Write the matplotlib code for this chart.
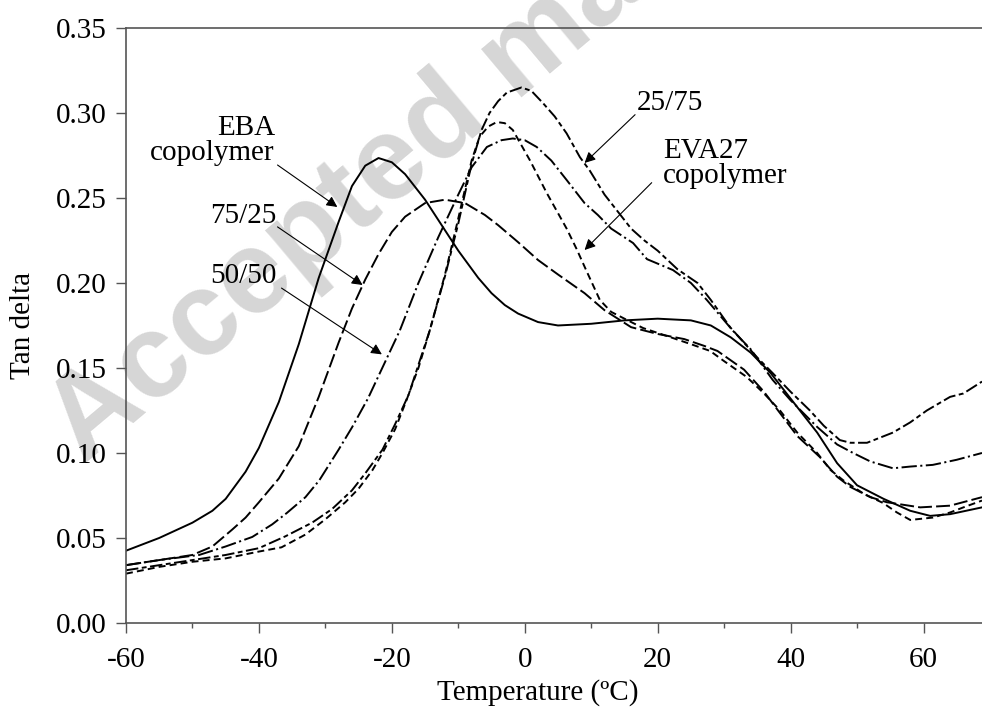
import numpy as np
import matplotlib
matplotlib.use("Agg")
import matplotlib.pyplot as plt

plt.rcParams['font.family'] = ['Liberation Serif', 'DejaVu Serif']
plt.rcParams['lines.scale_dashes'] = False

# --- data (temperature in C, tan delta) ---
eba_t = [-60, -55, -50, -47, -45, -42, -40, -37, -34, -31, -28, -26, -24, -22, -20, -18,
         -15, -12, -10, -7, -5, -3, -1, 2, 5, 10, 15, 20, 25, 28, 31, 34, 37, 40, 44, 47,
         50, 54, 58, 61, 64, 68.8]
eba_tan = [0.0425, 0.050, 0.059, 0.066, 0.073, 0.089, 0.103, 0.130, 0.164, 0.203, 0.236,
           0.257, 0.269, 0.2735, 0.271, 0.264, 0.249, 0.231, 0.219, 0.203, 0.194, 0.187,
           0.182, 0.177, 0.175, 0.176, 0.178, 0.179, 0.178, 0.175, 0.168, 0.159, 0.147,
           0.132, 0.112, 0.094, 0.081, 0.073, 0.066, 0.063, 0.064, 0.068]

b75_t = [-60, -55, -50, -47, -44, -42, -40, -37, -34, -31, -28, -26, -24, -22, -20, -18,
         -15, -12, -9, -6, -4, -1, 2, 5, 9, 12, 16, 20, 24, 27, 29, 33, 36, 38.4, 41, 44.4,
         47, 49, 52, 54.5, 59.5, 64, 68.8]
b75_tan = [0.034, 0.037, 0.040, 0.045, 0.055, 0.062, 0.071, 0.085, 0.104, 0.133, 0.165,
           0.185, 0.202, 0.217, 0.230, 0.239, 0.247, 0.249, 0.247, 0.240, 0.234, 0.224,
           0.2135, 0.205, 0.194, 0.184, 0.174, 0.170, 0.167, 0.163, 0.160, 0.149, 0.136,
           0.1235, 0.110, 0.0976, 0.086, 0.080, 0.074, 0.071, 0.068, 0.069, 0.074]

b50_t = [-60, -55, -49, -45, -41, -38, -35.8, -33, -30.9, -28, -26, -23.6, -21.8, -18.8,
         -16, -13, -10, -8, -5.7, -3.5, -1.8, 0, 1.8, 4, 6.3, 9, 11, 13, 16.3, 18.4, 22.3,
         25, 27.4, 31.3, 34, 37.3, 40, 44, 47, 49.4, 52, 55.4, 58, 61.4, 65, 68.8]
b50_tan = [0.034, 0.037, 0.040, 0.045, 0.0506, 0.058, 0.0647, 0.074, 0.084, 0.102, 0.115,
           0.132, 0.147, 0.172, 0.200, 0.227, 0.252, 0.268, 0.280, 0.284, 0.285, 0.284,
           0.280, 0.272, 0.2606, 0.247, 0.240, 0.232, 0.2235, 0.214, 0.2076, 0.200, 0.190,
           0.172, 0.161, 0.143, 0.131, 0.1153, 0.105, 0.100, 0.095, 0.091, 0.092, 0.093,
           0.096, 0.100]

b25_t = [-60, -55, -50, -45, -40, -36, -32, -29, -26, -24, -21.4, -19.5, -17.5, -14.3,
         -12, -10, -8, -6.5, -5.3, -4, -2.7, -0.5, 1, 2.7, 4.5, 6.3, 8.3, 9.8, 12, 14, 16,
         18, 20, 23, 26, 28, 30.9, 34.9, 37.3, 40, 42.9, 45, 47.4, 49, 51.5, 55.4, 58,
         60.5, 64, 66, 68.8]
b25_tan = [0.031, 0.034, 0.037, 0.040, 0.044, 0.051, 0.059, 0.067, 0.078, 0.088, 0.102,
           0.117, 0.134, 0.172, 0.204, 0.235, 0.270, 0.290, 0.300, 0.307, 0.312, 0.315,
           0.313, 0.306, 0.298, 0.288, 0.274, 0.266, 0.252, 0.242, 0.232, 0.225, 0.219,
           0.208, 0.200, 0.190, 0.174, 0.1565, 0.147, 0.136, 0.125, 0.116, 0.1076, 0.106,
           0.106, 0.112, 0.118, 0.125, 0.133, 0.135, 0.142]

eva_t = [-60, -55, -50, -45, -40, -36.6, -33, -30, -27, -25, -22.9, -21.4, -19.5, -17.8,
         -16, -14.3, -12, -10, -8, -6.8, -5.5, -4.2, -3, -1.8, 0.8, 3.3, 6.3, 7.8, 9.3,
         11.3, 13, 15, 17.8, 22, 25, 27.9, 30, 33.4, 36, 38.4, 41, 44, 46, 47.9, 51, 53.9,
         56, 58, 61.4, 64, 66, 68.8]
eva_tan = [0.029, 0.033, 0.036, 0.038, 0.042, 0.0445, 0.052, 0.061, 0.071, 0.079, 0.090,
           0.100, 0.114, 0.131, 0.150, 0.172, 0.205, 0.238, 0.272, 0.286, 0.292, 0.2947,
           0.294, 0.290, 0.272, 0.253, 0.232, 0.220, 0.207, 0.190, 0.183, 0.179, 0.1735,
           0.168, 0.164, 0.160, 0.154, 0.1447, 0.135, 0.125, 0.112, 0.100, 0.090, 0.084,
           0.076, 0.0706, 0.065, 0.0606, 0.062, 0.065, 0.068, 0.072]

x_ticks = [-60, -40, -20, 0, 20, 40, 60]
y_ticks = [0.00, 0.05, 0.10, 0.15, 0.20, 0.25, 0.30, 0.35]

fig = plt.figure(figsize=(9.82, 7.14), dpi=100)
ax = fig.add_axes([0.1283, 0.1275, 0.8717, 0.8333])
ax.set_facecolor('none')

# faint watermark behind everything
fig.text(0.0855, 0.349, "Accepted manuscript", fontsize=85, fontweight='bold',
         family='Liberation Sans', color='#d6d6d6', rotation=40, rotation_mode='anchor',
         ha='left', va='baseline', zorder=-1)

lw = 1.4
ax.plot(eba_t, eba_tan, color='black', lw=lw, ls='-')
ax.plot(b75_t, b75_tan, color='black', lw=lw, ls=(0, (10, 3)))
ax.plot(b50_t, b50_tan, color='black', lw=lw, ls=(0, (11, 2.5, 1.5, 2.5)))
ax.plot(b25_t, b25_tan, color='black', lw=lw, ls=(0, (9, 2.5, 3.5, 2.5)))
ax.plot(eva_t, eva_tan, color='black', lw=lw, ls=(0, (5, 3)))

arrow = dict(arrowstyle='-|>', color='black', lw=0.8, mutation_scale=16,
             shrinkA=0, shrinkB=0)
fs = 21
ax.text(-37.6, 0.284, "EBA\ncopolymer", fontsize=fs, ha='right', va='center',
        multialignment='right', linespacing=0.95)
ax.annotate('', xy=(-28.2, 0.2447), xytext=(-37.2, 0.2694), arrowprops=arrow)

ax.text(-37.3, 0.2394, "75/25", fontsize=fs, ha='right', va='center')
ax.annotate('', xy=(-24.4, 0.1988), xytext=(-37.2, 0.233), arrowprops=arrow)

ax.text(-37.3, 0.204, "50/50", fontsize=fs, ha='right', va='center')
ax.annotate('', xy=(-21.5, 0.158), xytext=(-36.6, 0.197), arrowprops=arrow)

ax.text(16.9, 0.306, "25/75", fontsize=fs, ha='left', va='center')
ax.annotate('', xy=(9.0, 0.2706), xytext=(16.6, 0.299), arrowprops=arrow)

ax.text(20.8, 0.27, "EVA27\ncopolymer", fontsize=fs, ha='left', va='center',
        linespacing=0.95)
ax.annotate('', xy=(9.0, 0.2194), xytext=(19.1, 0.259), arrowprops=arrow)

ax.set_xlim(-60, 68.8)
ax.set_ylim(0, 0.35)
ax.set_xticks(x_ticks)
ax.set_xticks([-50, -30, -10, 10, 30, 50], minor=True)
ax.set_yticks(y_ticks)
ax.set_yticklabels([f"{v:.2f}" for v in y_ticks])
ax.set_xticklabels([str(v) for v in x_ticks])

spine_col = '#555555'
for side in ['left', 'bottom', 'top']:
    ax.spines[side].set_color(spine_col)
    ax.spines[side].set_linewidth(1.2)
ax.spines['right'].set_visible(False)
ax.tick_params(which='major', direction='out', length=7, width=1.0, color=spine_col,
               labelsize=fs, pad=7)
ax.tick_params(which='minor', direction='out', length=3.5, width=1.0, color=spine_col)
ax.tick_params(axis='x', which='major', pad=10)

ax.set_xlabel("Temperature (ºC)", fontsize=fs)
ax.set_ylabel("Tan delta", fontsize=fs)
ax.xaxis.set_label_coords(0.481, -0.095)
ax.yaxis.set_label_coords(-0.105, 0.5)

fig.savefig("out.png", dpi=100)
